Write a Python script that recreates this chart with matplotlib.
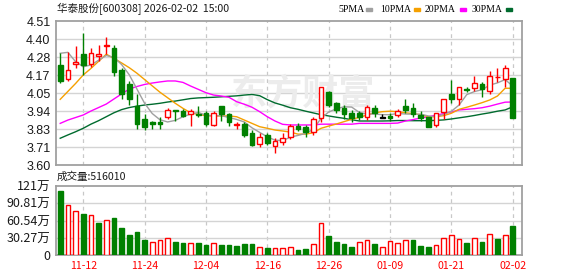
import numpy as np
import matplotlib
matplotlib.use("Agg")
import matplotlib.pyplot as plt

plt.rcParams["font.family"] = ["Noto Sans CJK SC", "DejaVu Sans"]

title = "华泰股份[600308] 2026-02-02  15:00"
dates = ["11-07", "11-10", "11-11", "11-12", "11-13", "11-14", "11-17", "11-18", "11-19", "11-20",
         "11-21", "11-24", "11-25", "11-26", "11-27", "11-28", "12-01", "12-02", "12-03", "12-04",
         "12-05", "12-08", "12-09", "12-10", "12-11", "12-12", "12-15", "12-16", "12-17", "12-18",
         "12-19", "12-22", "12-23", "12-24", "12-25", "12-26", "12-29", "12-30", "12-31", "01-05",
         "01-06", "01-07", "01-08", "01-09", "01-12", "01-13", "01-14", "01-15", "01-16", "01-19",
         "01-20", "01-21", "01-22", "01-23", "01-26", "01-27", "01-28", "01-29", "01-30", "02-02"]

opens = [4.232, 4.142, 4.236, 4.301, 4.236, 4.289, 4.355, 4.339, 4.200, 4.112,
         3.975, 3.891, 3.870, 3.870, 3.901, 3.948, 3.943, 3.922, 3.922, 3.927,
         3.851, 3.973, 3.920, 3.855, 3.859, 3.804, 3.731, 3.790, 3.722, 3.743,
         3.779, 3.846, 3.838, 3.810, 3.895, 4.063, 3.990, 3.958, 3.927, 3.927,
         3.901, 3.958, 3.899, 3.910, 3.916, 3.973, 3.958, 3.916, 3.901, 3.851,
         3.937, 4.049, 4.015, 4.080, 4.085, 4.112, 4.070, 4.155, 4.142, 4.148]
highs = [4.306, 4.316, 4.352, 4.436, 4.339, 4.360, 4.411, 4.358, 4.215, 4.131,
         4.049, 3.920, 3.878, 3.905, 3.960, 3.950, 3.952, 3.952, 3.973, 3.941,
         3.941, 3.975, 3.930, 3.874, 3.874, 3.821, 3.800, 3.800, 3.770, 3.800,
         3.860, 3.865, 3.853, 3.905, 4.095, 4.070, 4.000, 3.979, 3.948, 3.940,
         3.979, 3.979, 3.920, 3.930, 3.952, 4.017, 3.994, 3.943, 3.905, 3.930,
         4.020, 4.137, 4.093, 4.092, 4.162, 4.126, 4.196, 4.210, 4.232, 4.148]
lows = [4.116, 4.133, 4.215, 4.169, 4.221, 4.259, 4.300, 4.164, 4.017, 3.981,
        3.829, 3.821, 3.829, 3.829, 3.891, 3.877, 3.905, 3.846, 3.905, 3.846,
        3.845, 3.880, 3.846, 3.826, 3.779, 3.720, 3.716, 3.726, 3.678, 3.726,
        3.762, 3.817, 3.779, 3.790, 3.874, 3.965, 3.927, 3.889, 3.874, 3.883,
        3.883, 3.905, 3.895, 3.875, 3.905, 3.930, 3.901, 3.880, 3.842, 3.842,
        3.891, 3.994, 3.979, 4.061, 4.070, 4.032, 4.049, 4.126, 4.095, 3.899]
closes = [4.131, 4.200, 4.251, 4.232, 4.306, 4.301, 4.360, 4.190, 4.049, 4.015,
          3.859, 3.838, 3.859, 3.859, 3.948, 3.940, 3.910, 3.943, 3.914, 3.859,
          3.927, 3.922, 3.874, 3.857, 3.790, 3.726, 3.779, 3.741, 3.752, 3.772,
          3.846, 3.829, 3.808, 3.889, 4.090, 3.979, 3.948, 3.922, 3.895, 3.901,
          3.968, 3.927, 3.899, 3.895, 3.943, 3.948, 3.922, 3.895, 3.842, 3.927,
          4.015, 4.020, 4.091, 4.077, 4.116, 4.078, 4.165, 4.158, 4.210, 3.899]

ma5 = [4.306, 4.312, 4.253, 4.221, 4.232, 4.262, 4.292, 4.280, 4.235, 4.170,
       4.080, 3.990, 3.925, 3.886, 3.872, 3.882, 3.905, 3.922, 3.932, 3.915,
       3.910, 3.912, 3.900, 3.888, 3.872, 3.835, 3.806, 3.778, 3.757, 3.754,
       3.776, 3.787, 3.800, 3.825, 3.895, 3.935, 3.955, 3.968, 3.966, 3.932,
       3.922, 3.922, 3.918, 3.918, 3.926, 3.922, 3.921, 3.921, 3.910, 3.905,
       3.920, 3.940, 3.979, 4.045, 4.064, 4.076, 4.105, 4.119, 4.140, 4.098]
ma10 = [4.015, 4.065, 4.115, 4.169, 4.210, 4.255, 4.300, 4.274, 4.245, 4.215,
        4.180, 4.140, 4.100, 4.060, 4.025, 3.990, 3.958, 3.930, 3.920, 3.912,
        3.910, 3.910, 3.910, 3.905, 3.884, 3.863, 3.842, 3.832, 3.821, 3.815,
        3.808, 3.795, 3.795, 3.804, 3.832, 3.846, 3.859, 3.874, 3.889, 3.901,
        3.916, 3.930, 3.937, 3.940, 3.937, 3.930, 3.924, 3.918, 3.905, 3.905,
        3.912, 3.927, 3.952, 3.965, 3.979, 3.994, 4.011, 4.036, 4.085, 4.085]
ma20 = [3.863, 3.884, 3.900, 3.916, 3.941, 3.963, 3.985, 4.017, 4.049, 4.080,
        4.096, 4.109, 4.118, 4.125, 4.131, 4.131, 4.122, 4.099, 4.078, 4.057,
        4.042, 4.036, 4.028, 4.000, 3.984, 3.965, 3.937, 3.905, 3.878, 3.857,
        3.853, 3.853, 3.853, 3.853, 3.858, 3.858, 3.858, 3.858, 3.858, 3.863,
        3.863, 3.863, 3.863, 3.863, 3.865, 3.878, 3.887, 3.897, 3.905, 3.915,
        3.925, 3.935, 3.948, 3.952, 3.956, 3.962, 3.972, 3.985, 3.997, 3.998]
ma30 = [3.769, 3.790, 3.810, 3.832, 3.858, 3.880, 3.905, 3.930, 3.950, 3.963,
        3.972, 3.979, 3.984, 3.990, 3.998, 4.004, 4.012, 4.020, 4.024, 4.026,
        4.028, 4.031, 4.034, 4.037, 4.042, 4.046, 4.038, 4.013, 3.992, 3.978,
        3.962, 3.952, 3.940, 3.929, 3.918, 3.910, 3.902, 3.895, 3.886, 3.878,
        3.878, 3.878, 3.878, 3.879, 3.881, 3.881, 3.880, 3.880, 3.880, 3.882,
        3.885, 3.891, 3.898, 3.905, 3.913, 3.922, 3.930, 3.940, 3.948, 3.968]

# volume in 万 shares, and whether the bar is drawn as "up" (red hollow)
volumes = [112.3, 87.7, 77.2, 71.9, 70.2, 56.7, 61.4, 65.5, 48.0, 35.1,
           40.4, 26.3, 22.8, 26.3, 29.2, 22.8, 21.1, 21.1, 21.1, 17.5,
           20.5, 17.5, 17.5, 15.8, 19.3, 19.3, 13.5, 12.9, 11.7, 11.7,
           13.5, 8.8, 10.5, 18.7, 55.6, 33.3, 22.8, 19.3, 14.0, 22.2,
           25.7, 19.3, 13.5, 24.0, 20.5, 26.3, 26.3, 15.8, 14.0, 17.0,
           29.2, 34.5, 28.1, 21.1, 29.2, 22.8, 36.3, 28.1, 34.5, 51.6]
vol_up = [0, 1, 1, 0, 1, 0, 1, 0, 0, 0,
          0, 0, 1, 1, 1, 0, 0, 1, 0, 0,
          1, 0, 0, 0, 0, 0, 1, 0, 1, 1,
          1, 0, 0, 1, 1, 0, 0, 0, 0, 1,
          1, 0, 1, 1, 1, 1, 0, 0, 0, 1,
          1, 1, 1, 0, 1, 0, 1, 0, 1, 0]
last_volume = "516010"

price_ticks = [3.60, 3.71375, 3.8275, 3.94125, 4.055, 4.16875, 4.2825, 4.39625, 4.51]
price_labels = ["3.60", "3.71", "3.83", "3.94", "4.05", "4.17", "4.28", "4.40", "4.51"]
vol_ticks = [0, 30.27, 60.54, 90.81, 121.08]
vol_labels = ["0", "30.27万", "60.54万", "90.81万", "121万"]
ma_names = ["5PMA", "10PMA", "20PMA", "30PMA"]

RED = "#ff0000"
GREEN = "#008000"
FRAME = "#a0a0a0"
GRID = "#d4d4d4"
MA_COLORS = ["#a0a0a0", "#f5a000", "#ff00ff", "#006b2e"]

W, H = 578, 276
fig = plt.figure(figsize=(W / 100, H / 100), dpi=100)
fig.patch.set_facecolor("white")


def px_axes(left, top, right, bottom):
    return fig.add_axes([left / W, 1 - bottom / H, (right - left) / W, (bottom - top) / H])


ax = px_axes(56, 21, 522, 165)
axv = px_axes(56, 186, 522, 255)

x = np.arange(len(dates))
o = np.array(opens)
c = np.array(closes)
up = c >= o
xlim = (-0.55, 60.2)
tick_idx = list(range(3, len(dates), 8))

for a in (ax, axv):
    a.set_xlim(*xlim)
    for s in a.spines.values():
        s.set_color(FRAME)
        s.set_linewidth(1.3)
    a.tick_params(length=0, pad=4)
    for t in tick_idx:
        a.axvline(t, color="#c8c8c8", lw=0.9, ls=(0, (3, 3)), zorder=0)
    a.set_xticks([])

# price panel
ax.set_ylim(3.60, 4.51)
ax.set_yticks(price_ticks)
ax.set_yticklabels(price_labels, fontsize=9, color="#1a1a1a", family="Liberation Sans")
for t in price_ticks[1:-1]:
    ax.axhline(t, color=GRID, lw=1, zorder=0)

ax.text(0.53, 0.49, "东方财富", transform=ax.transAxes, fontsize=26, fontweight="bold",
        color="#ececec", ha="center", va="center", zorder=0)

for ma, col in zip([ma30, ma20, ma10, ma5], MA_COLORS[::-1]):
    ax.plot(x, ma, color=col, lw=1, zorder=2)

for i in x:
    if abs(c[i] - o[i]) < 1e-9:
        col = "black"
    else:
        col = RED if up[i] else GREEN
    ax.vlines(i, lows[i], highs[i], color=col, lw=1, zorder=3)
    body_lo = min(o[i], c[i])
    body_h = max(abs(c[i] - o[i]), 0.002)
    ax.bar(i, body_h, bottom=body_lo, width=0.62,
           facecolor="white" if up[i] else col, edgecolor=col, lw=1, zorder=4)

fig.text(57 / W, 1 - 9 / H, title, fontsize=7.6, color="#1a1a1a", va="center", ha="left")

# legend row at top right
text_x = [338, 380, 425, 472]
swatch_x = [366, 414, 460, 506]
for name, col, tx, sx in zip(ma_names, MA_COLORS, text_x, swatch_x):
    fig.text(tx / W, 1 - 9 / H, name, fontsize=7, color="black", va="center",
             ha="left", family="Liberation Serif")
    fig.patches.append(plt.Rectangle((sx / W, 1 - 11 / H), 6 / W, 3 / H,
                                     transform=fig.transFigure, color=col))

# volume panel
axv.set_ylim(0, 121.08)
axv.set_yticks(vol_ticks)
axv.set_yticklabels(vol_labels, fontsize=9, color="#1a1a1a")
for t in vol_ticks[1:-1]:
    axv.axhline(t, color=GRID, lw=1, zorder=0)
vcol = [RED if u else GREEN for u in vol_up]
axv.bar(x, volumes, width=0.62, facecolor=["white" if u else GREEN for u in vol_up],
        edgecolor=vcol, lw=1, zorder=3)

fig.text(57 / W, 1 - 177 / H, "成交量:" + last_volume, fontsize=7.6, color="#1a1a1a",
         va="center", ha="left")

for t in tick_idx:
    xf = (56 + (t - xlim[0]) / (xlim[1] - xlim[0]) * 466) / W
    fig.text(xf, 1 - 266 / H, dates[t], fontsize=7.6, color=RED, ha="center", va="center")

fig.savefig("out.png", dpi=100, facecolor="white")
